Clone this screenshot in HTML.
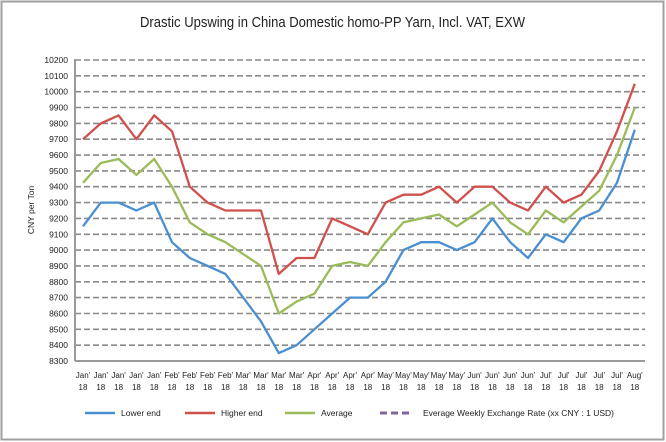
<!DOCTYPE html>
<html><head><meta charset="utf-8"><style>
body{margin:0;background:#fff}
svg{display:block;font-family:"Liberation Sans",sans-serif}
</style></head><body>
<svg id="c" width="666" height="442" xmlns="http://www.w3.org/2000/svg">
<rect x="1.5" y="1.5" width="662" height="438" fill="#fff" stroke="#a0a0a0" stroke-width="2"/>
<text x="140" y="27" font-size="15" fill="#222" textLength="385" lengthAdjust="spacingAndGlyphs">Drastic Upswing in China Domestic homo-PP Yarn, Incl. VAT, EXW</text>
<text transform="translate(34,210) rotate(-90)" text-anchor="middle" font-size="8.5" fill="#222">CNY per Ton</text>
<g id="g"></g>
<line x1="75" y1="59" x2="75" y2="361" stroke="#999" stroke-width="2"/>
<line x1="75" y1="361" x2="645" y2="361" stroke="#999" stroke-width="2"/>
<g font-size="8.5" fill="#222">
<line x1="85" y1="413" x2="115" y2="413" stroke="#4a8fd0" stroke-width="2.5"/><text x="121" y="416">Lower end</text>
<line x1="185" y1="413" x2="215" y2="413" stroke="#d0504d" stroke-width="2.5"/><text x="221" y="416">Higher end</text>
<line x1="285" y1="413" x2="315" y2="413" stroke="#9bbb59" stroke-width="2.5"/><text x="321" y="416">Average</text>
<line x1="380" y1="413" x2="410" y2="413" stroke="#8064a2" stroke-width="3" stroke-dasharray="7,4"/><text x="423" y="416">Everage Weekly Exchange Rate (xx CNY : 1 USD)</text>
</g>
</svg>
<script>
var g=document.getElementById('g'),h='';
function Y(v){return 60+(10200-v)*0.15842;}
for(var v=8300;v<=10200;v+=100){var y=Y(v).toFixed(1);
 if(v>8300)h+='<line x1="75" y1="'+y+'" x2="645" y2="'+y+'" stroke="#8a8a8a" stroke-width="1.6" stroke-dasharray="6,3"/>';
 h+='<text x="68" y="'+(+y+3)+'" text-anchor="end" font-size="8.5" fill="#222">'+v+'</text>';}
var m=['Jan','Jan','Jan','Jan','Jan','Feb','Feb','Feb','Feb','Mar','Mar','Mar','Mar','Apr','Apr','Apr','Apr','May','May','May','May','May','Jun','Jun','Jun','Jun','Jul','Jul','Jul','Jul','Jul','Aug'];
function X(i){return 83+17.8*i;}
m.forEach(function(s,i){var x=X(i).toFixed(1);h+='<text x="'+x+'" y="378" text-anchor="middle" font-size="8" fill="#222">'+s+"'</text>"+'<text x="'+x+'" y="390" text-anchor="middle" font-size="8" fill="#222">18</text>';});
var R=[9700,9800,9850,9700,9850,9750,9400,9300,9250,9250,9250,8850,8950,8950,9200,9150,9100,9300,9350,9350,9400,9300,9400,9400,9300,9250,9400,9300,9350,9500,9750,10050];
var G=[9425,9550,9575,9475,9575,9400,9175,9100,9050,8975,8900,8600,8675,8725,8900,8925,8900,9050,9175,9200,9225,9150,9225,9300,9175,9100,9250,9175,9275,9375,9600,9900];
var B=[9150,9300,9300,9250,9300,9050,8950,8900,8850,8700,8550,8350,8400,8500,8600,8700,8700,8800,9000,9050,9050,9000,9050,9200,9050,8950,9100,9050,9200,9250,9425,9760];
function L(a,c){return '<polyline fill="none" stroke="'+c+'" stroke-width="2.3" stroke-linejoin="round" points="'+a.map(function(v,i){return X(i).toFixed(1)+','+Y(v).toFixed(1)}).join(' ')+'"/>';}
h+=L(B,'#4a8fd0')+L(R,'#d0504d')+L(G,'#9bbb59');
g.innerHTML=h;
</script>
</body></html>
